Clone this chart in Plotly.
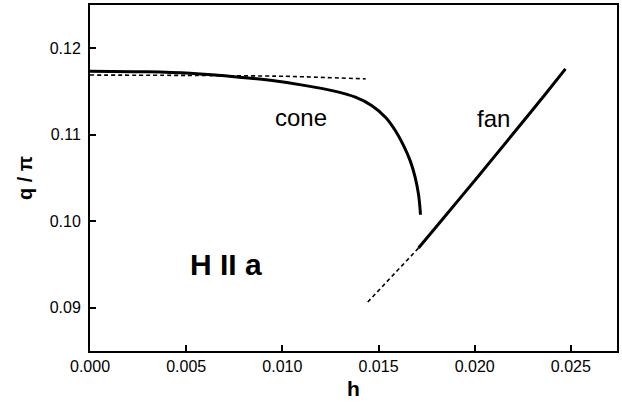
import plotly.graph_objects as go

# Cone phase: equilibrium branch (solid) and metastable continuation (dashed)
cone_h = [0.0, 0.0030, 0.0052, 0.00775, 0.00948, 0.01121, 0.01259, 0.01380,
          0.01466, 0.01536, 0.01588, 0.01631, 0.01665, 0.01691, 0.01708,
          0.01717, 0.01718]
cone_q = [0.11735, 0.11728, 0.11710, 0.11666, 0.11626, 0.11568, 0.11510,
          0.11434, 0.11336, 0.11202, 0.11046, 0.10872, 0.10698, 0.10505,
          0.10311, 0.10118, 0.10075]

cone_dash_h = [0.0, 0.005, 0.0101, 0.01433]
cone_dash_q = [0.11690, 0.11686, 0.11676, 0.11646]

# Fan phase: stable branch (solid) and its extension to lower field (dashed)
fan_h = [0.01708, 0.01847, 0.02020, 0.02191, 0.02365, 0.02472]
fan_q = [0.09690, 0.10060, 0.10524, 0.10988, 0.11462, 0.11762]

fan_dash_h = [0.01444, 0.01708]
fan_dash_q = [0.09066, 0.09690]

x_ticks = [0.0, 0.005, 0.010, 0.015, 0.020, 0.025]
y_ticks = [0.09, 0.10, 0.11, 0.12]

font_family = "Arial, Liberation Sans, sans-serif"

fig = go.Figure()
fig.add_trace(go.Scatter(x=cone_dash_h, y=cone_dash_q, mode="lines",
                         line=dict(color="black", width=1.6, dash="4px,3px",
                                   shape="spline", smoothing=0.6)))
fig.add_trace(go.Scatter(x=fan_dash_h, y=fan_dash_q, mode="lines",
                         line=dict(color="black", width=1.6, dash="4px,3px")))
fig.add_trace(go.Scatter(x=cone_h, y=cone_q, mode="lines",
                         line=dict(color="black", width=3,
                                   shape="spline", smoothing=0.6)))
fig.add_trace(go.Scatter(x=fan_h, y=fan_q, mode="lines",
                         line=dict(color="black", width=3,
                                   shape="spline", smoothing=0.5)))

fig.add_annotation(x=0.01097, y=0.11205, text="cone", showarrow=False,
                   font=dict(size=24, family=font_family, color="black"))
fig.add_annotation(x=0.02097, y=0.11193, text="fan", showarrow=False,
                   font=dict(size=24, family=font_family, color="black"))
fig.add_annotation(x=0.00708, y=0.09499, text="<b>H II a</b>", showarrow=False,
                   font=dict(size=30, family=font_family, color="black"))

axis_common = dict(
    showgrid=False, zeroline=False,
    showline=True, linecolor="black", linewidth=2, mirror=True,
    ticks="inside", ticklen=6, tickwidth=1.5, tickcolor="black",
    tickfont=dict(size=16, family=font_family, color="black"),
)

fig.update_xaxes(range=[0.0, 0.0274], tickvals=x_ticks, tickformat=".3f",
                 title=dict(text="<b>h</b>", standoff=7,
                            font=dict(size=21, family=font_family, color="black")),
                 **axis_common)
fig.update_yaxes(range=[0.085, 0.125], tickvals=y_ticks, tickformat=".2f",
                 ticklabelstandoff=4,
                 title=dict(text="<b>q / π</b>", standoff=12,
                            font=dict(size=20, family=font_family, color="black")),
                 **axis_common)

fig.update_layout(
    width=622, height=405,
    margin=dict(l=90, r=3, t=5, b=54),
    paper_bgcolor="white", plot_bgcolor="white",
    showlegend=False,
)

fig.write_html("out.html")
